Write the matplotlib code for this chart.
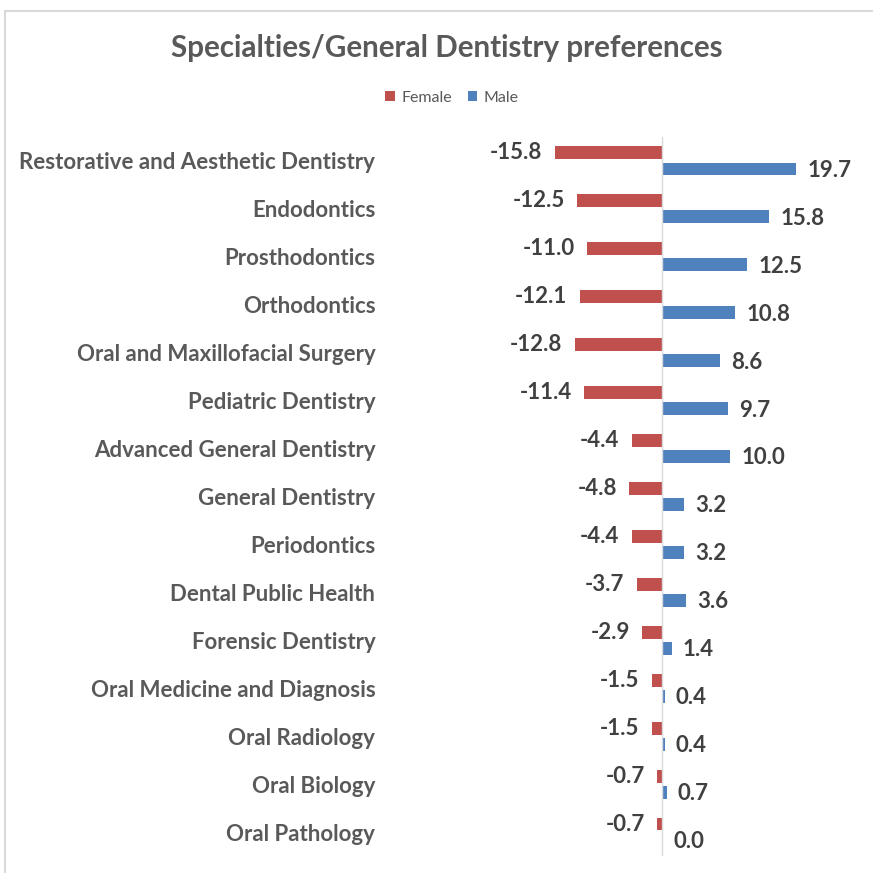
import numpy as np
import matplotlib
matplotlib.use("Agg")
import matplotlib.pyplot as plt
from matplotlib.patches import Rectangle

categories = [
    "Restorative and Aesthetic Dentistry", "Endodontics", "Prosthodontics",
    "Orthodontics", "Oral and Maxillofacial Surgery", "Pediatric Dentistry",
    "Advanced General Dentistry", "General Dentistry", "Periodontics",
    "Dental Public Health", "Forensic Dentistry", "Oral Medicine and Diagnosis",
    "Oral Radiology", "Oral Biology", "Oral Pathology",
]
female = [-15.8, -12.5, -11.0, -12.1, -12.8, -11.4, -4.4, -4.8, -4.4, -3.7,
          -2.9, -1.5, -1.5, -0.7, -0.7]
male = [19.7, 15.8, 12.5, 10.8, 8.6, 9.7, 10.0, 3.2, 3.2, 3.6, 1.4, 0.4, 0.4,
        0.7, 0.0]

RED = "#C0504D"
BLUE = "#4F81BD"
GREY = "#595959"
plt.rcParams["font.family"] = ["Lato", "DejaVu Sans"]

W = H = 873
fig = plt.figure(figsize=(W / 100, H / 100), dpi=100)
# axes: x from 385 to 860 px, y from 137 to 856 px
ax = fig.add_axes([385 / W, (H - 856) / H, (860 - 385) / W, (856 - 137) / H])

y = np.arange(len(categories))
off, hgt = 0.167, 0.27
ax.barh(y - off, female, height=hgt, color=RED, label="Female")
ax.barh(y + off, male, height=hgt, color=BLUE, label="Male")

ppu = 6.8  # pixels per unit
ax.set_xlim(-(662 - 385) / ppu, (860 - 662) / ppu)
ax.set_ylim(len(categories) - 0.5, -0.5)
ax.axvline(0, color="#d9d9d9", lw=1)

for i, (f, m) in enumerate(zip(female, male)):
    ax.annotate(f"{f:.1f}", (f, i - off), xytext=(-9, 0), textcoords="offset points",
                ha="right", va="center", fontsize=16, fontweight="bold", color="#404040")
    ax.annotate(f"{m:.1f}", (m, i + off), xytext=(8, -1), textcoords="offset points",
                ha="left", va="center", fontsize=16, fontweight="bold", color="#404040")

ax.set_yticks(y)
ax.set_yticklabels(categories, fontsize=16, fontweight="bold", color=GREY)
ax.tick_params(axis="y", length=0, pad=7)
ax.set_xticks([])
for s in ax.spines.values():
    s.set_visible(False)

fig.text(447 / W, 1 - 48 / H, "Specialties/General Dentistry preferences",
         ha="center", va="center", fontsize=21.3, fontweight="bold", color=GREY)
fig.legend(loc="center", bbox_to_anchor=(452 / W, 1 - 98 / H), ncol=2, frameon=False,
           fontsize=11.5, handlelength=0.6, handleheight=0.6, handletextpad=0.4,
           columnspacing=1.0, labelcolor=GREY)

fig.patches.append(Rectangle((5 / W, -0.1), 1.2, 1 - 11 / H + 0.1,
                             transform=fig.transFigure, fill=False,
                             edgecolor="#d9d9d9", lw=1.5))
fig.savefig("out.png", dpi=100, facecolor="white")
